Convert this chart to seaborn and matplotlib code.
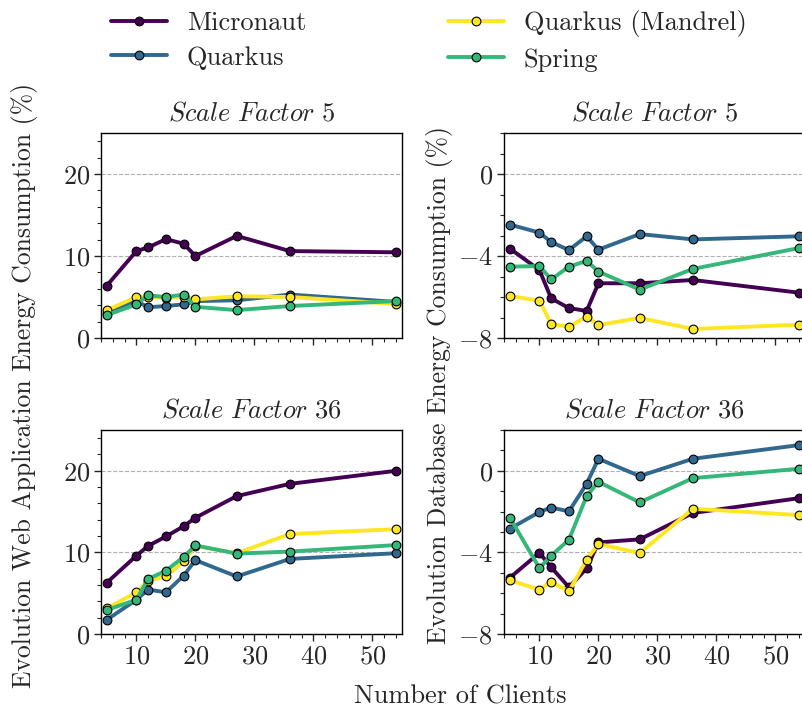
import numpy as np
import pandas as pd
import matplotlib
matplotlib.use("Agg")
import matplotlib.pyplot as plt
import seaborn as sns
from matplotlib.ticker import MultipleLocator
from matplotlib.lines import Line2D

clients = [5, 10, 12, 15, 18, 20, 27, 36, 54]
frameworks = ["Micronaut", "Quarkus", "Quarkus (Mandrel)", "Spring"]

# Web application, scale factor 5
web_sf5_micronaut = [6.4, 10.6, 11.05, 12.05, 11.5, 10.0, 12.45, 10.6, 10.45]
web_sf5_quarkus = [3.0, 4.5, 3.75, 3.9, 4.1, 4.5, 4.6, 5.3, 4.4]
web_sf5_mandrel = [3.4, 5.0, 5.0, 4.9, 5.0, 4.7, 5.1, 5.0, 4.15]
web_sf5_spring = [2.8, 4.1, 5.2, 5.0, 5.3, 3.8, 3.4, 3.9, 4.5]

# Database, scale factor 5
db_sf5_micronaut = [-3.64, -4.68, -6.07, -6.54, -6.68, -5.33, -5.33, -5.17, -5.79]
db_sf5_quarkus = [-2.47, -2.86, -3.32, -3.71, -3.04, -3.69, -2.93, -3.19, -3.04]
db_sf5_mandrel = [-5.95, -6.18, -7.32, -7.45, -6.96, -7.37, -7.02, -7.56, -7.35]
db_sf5_spring = [-4.52, -4.49, -5.14, -4.52, -4.24, -4.76, -5.64, -4.63, -3.61]

# Web application, scale factor 36
web_sf36_micronaut = [6.3, 9.6, 10.8, 11.95, 13.2, 14.25, 16.9, 18.4, 20.0]
web_sf36_quarkus = [1.75, 4.2, 5.45, 5.1, 7.15, 9.05, 7.05, 9.2, 9.9]
web_sf36_mandrel = [3.15, 5.1, 6.55, 7.05, 8.9, 10.8, 9.9, 12.25, 12.85]
web_sf36_spring = [2.95, 4.2, 6.75, 7.75, 9.45, 10.85, 9.85, 10.1, 10.9]

# Database, scale factor 36
db_sf36_micronaut = [-5.24, -4.02, -4.73, -5.71, -4.78, -3.51, -3.36, -2.07, -1.34]
db_sf36_quarkus = [-2.84, -2.02, -1.8, -1.99, -0.64, 0.59, -0.26, 0.59, 1.26]
db_sf36_mandrel = [-5.36, -5.83, -5.44, -5.91, -4.36, -3.59, -4.03, -1.86, -2.17]
db_sf36_spring = [-2.3, -4.77, -4.16, -3.38, -1.24, -0.54, -1.55, -0.36, 0.1]

titles = ["Scale Factor 5", "Scale Factor 5", "Scale Factor 36", "Scale Factor 36"]
palette = {"Micronaut": "#440154", "Quarkus": "#31688e",
           "Quarkus (Mandrel)": "#fde725", "Spring": "#35b779"}


def make_df(m, q, qm, s):
    rows = []
    for name, vals in zip(frameworks, [m, q, qm, s]):
        for c, v in zip(clients, vals):
            rows.append({"Clients": c, "Value": v, "Framework": name})
    return pd.DataFrame(rows)


panels = [
    make_df(web_sf5_micronaut, web_sf5_quarkus, web_sf5_mandrel, web_sf5_spring),
    make_df(db_sf5_micronaut, db_sf5_quarkus, db_sf5_mandrel, db_sf5_spring),
    make_df(web_sf36_micronaut, web_sf36_quarkus, web_sf36_mandrel, web_sf36_spring),
    make_df(db_sf36_micronaut, db_sf36_quarkus, db_sf36_mandrel, db_sf36_spring),
]

sns.set_theme(style="ticks")
FS = 19
plt.rcParams.update({
    "font.family": "serif",
    "font.serif": ["cmr10"],
    "mathtext.fontset": "cm",
    "axes.formatter.use_mathtext": True,
    "axes.unicode_minus": True,
    "font.size": FS,
})

fig = plt.figure(figsize=(8.03, 7.10), dpi=100)
W, H = 803, 710
positions = [
    (101, 133, 301, 205),
    (504, 133, 301, 205),
    (101, 430, 301, 204),
    (504, 430, 301, 204),
]
axes = []
for (x, y, w, h) in positions:
    axes.append(fig.add_axes([x / W, 1 - (y + h) / H, w / W, h / H]))

MS = 6.3
LW = 2.8
for i, (ax, df) in enumerate(zip(axes, panels)):
    sns.lineplot(data=df, x="Clients", y="Value", hue="Framework",
                 hue_order=frameworks, palette=palette, marker="o",
                 markersize=MS, markeredgecolor="black", markeredgewidth=0.8,
                 linewidth=LW, legend=False, ax=ax, errorbar=None)
    ax.set_xlim(4, 55)
    ax.xaxis.set_major_locator(MultipleLocator(10))
    ax.xaxis.set_minor_locator(MultipleLocator(2))
    if i % 2 == 0:
        ax.set_ylim(0, 25)
        ax.yaxis.set_major_locator(MultipleLocator(10))
        ax.yaxis.set_minor_locator(MultipleLocator(2))
    else:
        ax.set_ylim(-8, 2)
        ax.yaxis.set_major_locator(MultipleLocator(4))
        ax.yaxis.set_minor_locator(MultipleLocator(1))
    ax.grid(axis="y", which="major", linestyle="--", color="#b0b0b0", linewidth=0.8)
    ax.set_axisbelow(True)
    ax.tick_params(axis="both", which="major", length=5, width=1, labelsize=FS,
                   direction="out", top=False, right=False, pad=3)
    ax.tick_params(axis="both", which="minor", length=3, width=0.8,
                   direction="out", top=False, right=False)
    if i < 2:
        ax.tick_params(axis="x", which="both", labelbottom=False)
    ax.set_xlabel("")
    ax.set_ylabel("")
    ax.set_title(r"$\mathit{" + titles[i].replace(" ", r"\ ") + "}$",
                 fontsize=FS, pad=9)
    for sp in ax.spines.values():
        sp.set_linewidth(1.0)
        sp.set_color("black")

fig.text(25 / W, 1 - 385 / H, "Evolution Web Application Energy Consumption (%)",
         rotation=90, ha="center", va="center", fontsize=18.5)
fig.text(440 / W, 1 - 385 / H, "Evolution Database Energy Consumption (%)",
         rotation=90, ha="center", va="center", fontsize=18.5)
fig.text(460 / W, 1 - 697 / H, "Number of Clients", ha="center", va="center",
         fontsize=FS)

handles = [Line2D([0], [0], color=palette[f], marker="o", markersize=MS,
                  markeredgecolor="black", markeredgewidth=0.8, linewidth=LW)
           for f in frameworks]
fig.legend(handles, frameworks, loc="center", ncol=2, frameon=False,
           bbox_to_anchor=(429 / W, 1 - 41 / H), fontsize=FS,
           columnspacing=5.4, handlelength=2.1, handletextpad=0.75,
           labelspacing=0.4)

fig.savefig("out.png", dpi=100)
